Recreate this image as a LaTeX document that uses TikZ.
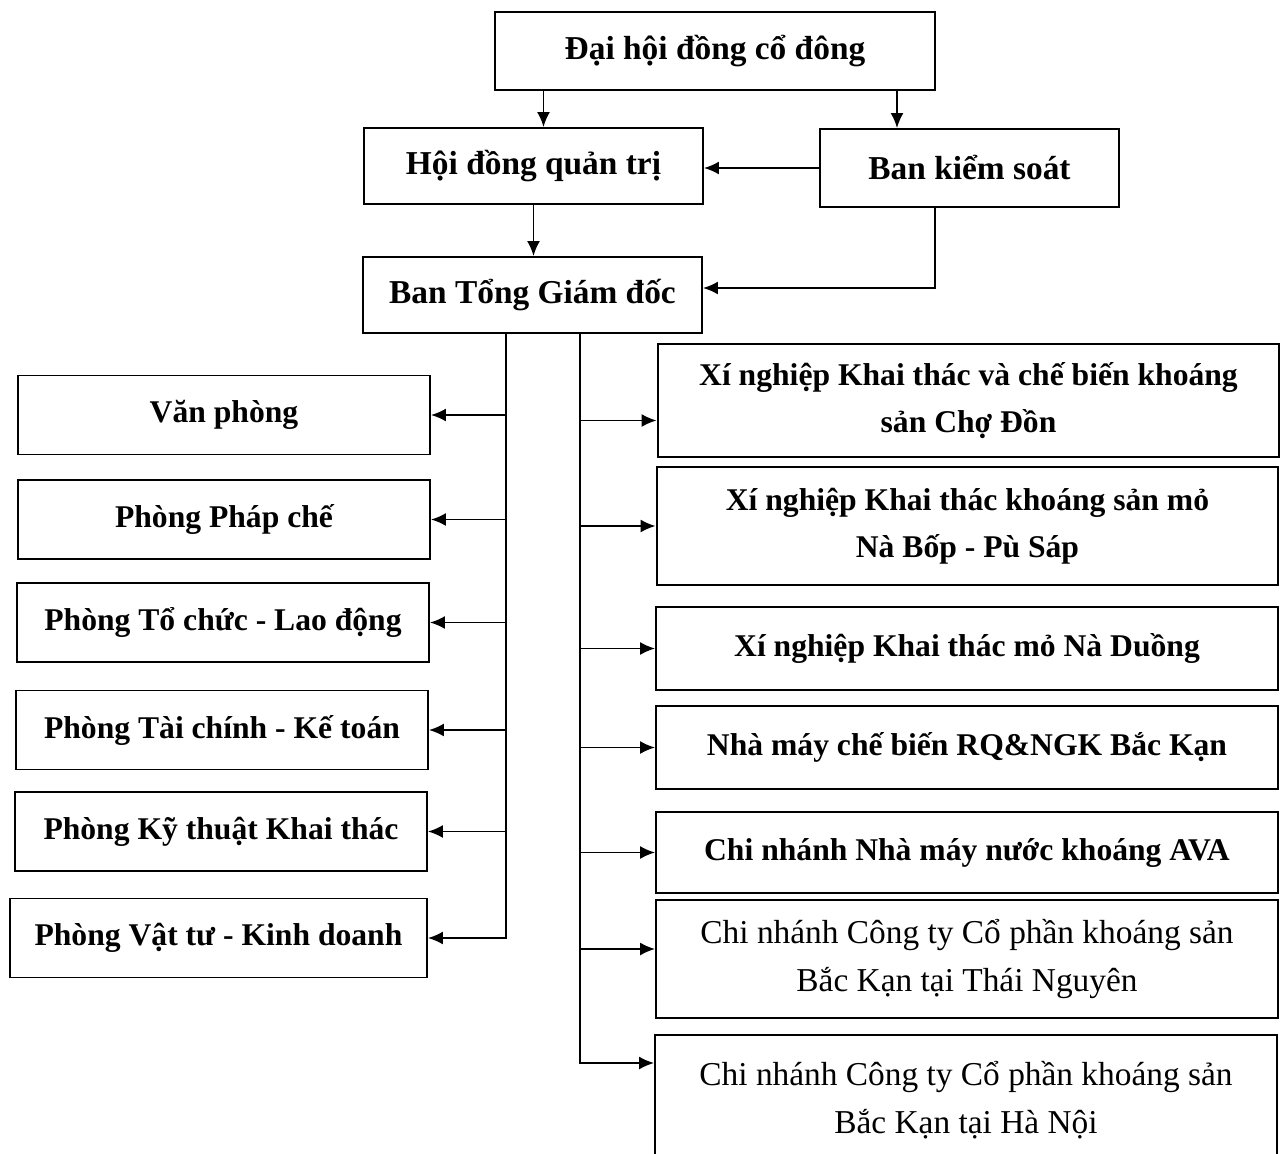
\documentclass[tikz,border=0pt]{standalone}
\usepackage{fontspec}
\setmainfont{Liberation Serif}
\usetikzlibrary{arrows.meta}

\begin{document}
\begin{tikzpicture}[x=0.02cm, y=-0.02cm,
  box/.style={draw, line width=1.1pt, inner sep=0pt, align=center},
  topbox/.style={box, font=\bfseries\fontsize{19}{27}\selectfont},
  lbox/.style={box, minimum width=8.24cm, minimum height=1.58cm, font=\bfseries\fontsize{18}{27}\selectfont},
  rbox/.style={box, minimum width=12.44cm, font=\bfseries\fontsize{18}{27}\selectfont},
  cnbox/.style={rbox, font=\fontsize{19}{27}\selectfont},
  arr/.style={line width=1.1pt, -{Latex[length=3mm,width=2.6mm]}}]

  \useasboundingbox (0,0) rectangle (1281,1153);

  % top of the chart
  \node[topbox, minimum width=8.8cm, minimum height=1.56cm] (dhcd) at (715,51) {Đại hội đồng cổ đông};
  \node[topbox, minimum width=6.78cm, minimum height=1.52cm] (hdqt) at (533.5,166) {Hội đồng quản trị};
  \node[topbox, minimum width=5.98cm, minimum height=1.56cm] (bks) at (969.5,168) {Ban kiểm soát};
  \node[topbox, minimum width=6.78cm, minimum height=1.52cm] (btgd) at (532.5,295) {Ban Tổng Giám đốc};

  \coordinate (hdin) at ([xshift=0.2cm]hdqt.north);
  \coordinate (bkin) at ([xshift=-1.45cm]bks.north);
  \coordinate (bkout) at ([xshift=-0.69cm]bks.south);
  \coordinate (lbus) at ([xshift=-0.53cm]btgd.south);
  \coordinate (rbus) at ([xshift=0.95cm]btgd.south);

  \draw[arr] (dhcd.south -| hdin) -- (hdin);
  \draw[arr] (dhcd.south -| bkin) -- (bkin);
  \draw[arr] (bks.west) -- (bks.west -| hdqt.east);
  \draw[arr] (hdqt.south) -- (hdqt.south |- btgd.north);
  \draw[arr] (bkout) |- ([yshift=0.14cm]btgd.east);

  % phong ban
  \node[lbox] (vp) at (224,415) {Văn phòng};
  \node[lbox] (ppc) at (224,519.5) {Phòng Pháp chế};
  \node[lbox] (tcld) at (223,622.5) {Phòng Tổ chức - Lao động};
  \node[lbox] (tckt) at (222,730) {Phòng Tài chính - Kế toán};
  \node[lbox] (ktkt) at (221,831.5) {Phòng Kỹ thuật Khai thác};
  \node[lbox, minimum width=8.34cm] (vtkd) at (218.5,938) {Phòng Vật tư - Kinh doanh};

  \draw[arr] (lbus) |- (vtkd.east);
  \draw[arr] (lbus |- vp.east) -- (vp.east);
  \draw[arr] (lbus |- ppc.east) -- (ppc.east);
  \draw[arr] (lbus |- tcld.east) -- (tcld.east);
  \draw[arr] (lbus |- tckt.east) -- (tckt.east);
  \draw[arr] (lbus |- ktkt.east) -- (ktkt.east);

  % don vi truc thuoc
  \node[rbox, minimum height=2.26cm] (xncd) at (968.5,400.5) {Xí nghiệp Khai thác và chế biến khoáng\\sản Chợ Đồn};
  \node[rbox, minimum height=2.36cm] (xnnb) at (967.5,526) {Xí nghiệp Khai thác khoáng sản mỏ\\Nà Bốp - Pù Sáp};
  \node[rbox, minimum height=1.66cm] (xnnd) at (967,648.5) {Xí nghiệp Khai thác mỏ Nà Duồng};
  \node[rbox, minimum height=1.66cm] (nmcb) at (967,747.5) {Nhà máy chế biến RQ\&NGK Bắc Kạn};
  \node[rbox, minimum height=1.62cm] (ava) at (967,852.5) {Chi nhánh Nhà máy nước khoáng AVA};
  \node[cnbox, minimum height=2.36cm] (cntn) at (967,959) {Chi nhánh Công ty Cổ phần khoáng sản\\Bắc Kạn tại Thái Nguyên};
  \node[cnbox, minimum height=2.6cm] (cnhn) at (966,1100) {Chi nhánh Công ty Cổ phần khoáng sản\\Bắc Kạn tại Hà Nội};

  \coordinate (xncdin) at ([yshift=-0.4cm]xncd.west);
  \coordinate (cntnin) at ([yshift=0.2cm]cntn.west);
  \coordinate (cnhnin) at ([yshift=0.74cm]cnhn.west);

  \draw[arr] (rbus) |- (cnhnin);
  \draw[arr] (rbus |- xncdin) -- (xncdin);
  \draw[arr] (rbus |- xnnb.west) -- (xnnb.west);
  \draw[arr] (rbus |- xnnd.west) -- (xnnd.west);
  \draw[arr] (rbus |- nmcb.west) -- (nmcb.west);
  \draw[arr] (rbus |- ava.west) -- (ava.west);
  \draw[arr] (rbus |- cntnin) -- (cntnin);
\end{tikzpicture}
\end{document}
